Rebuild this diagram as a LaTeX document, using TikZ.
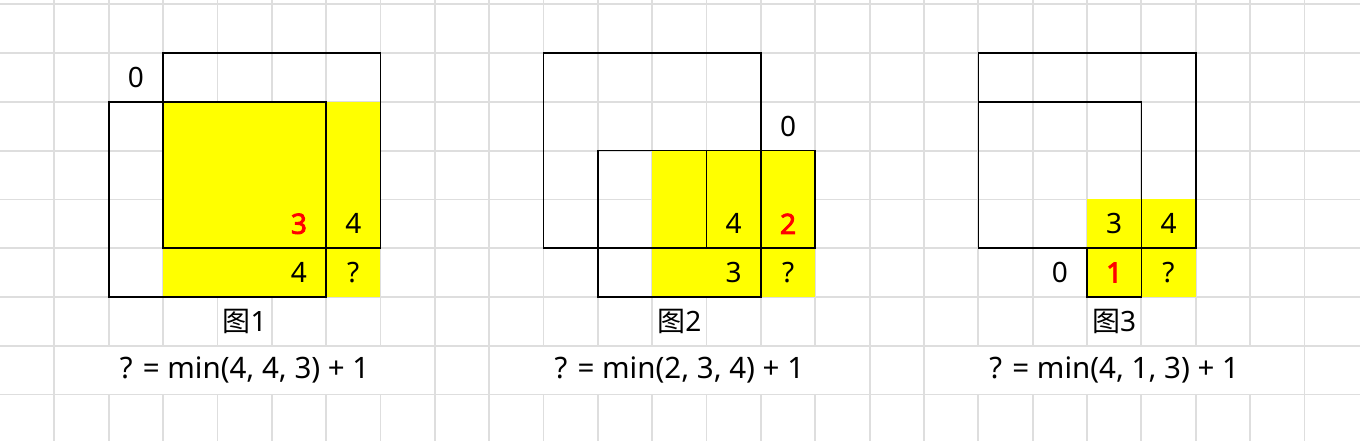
\documentclass[tikz,border=0pt]{standalone}
\usepackage{fontspec}
\setmainfont{Noto Sans}
\newfontfamily\cjk{Noto Sans CJK SC}
\newfontfamily\heavynum{Noto Sans}[FakeBold=3]
\definecolor{gridgray}{HTML}{DEDEDE}
\definecolor{hiyellow}{HTML}{FFFF00}
\definecolor{hired}{HTML}{FF0000}
\tikzset{
  gridline/.style={draw=gridgray, line width=1.8pt},
  boxline/.style={draw=black, line width=1.6pt},
  fillcell/.style={fill=hiyellow},
  val/.style={inner sep=0pt, font=\fontsize{28}{30}\selectfont, text=black},
  hot/.style={inner sep=0pt, font=\fontsize{28}{30}\selectfont\heavynum, text=hired},
  caption/.style={inner sep=0pt, font=\fontsize{28}{30}\selectfont, text=black},
  formula/.style={inner sep=0pt, font=\fontsize{29.5}{31}\selectfont, text=black},
}
\begin{document}
\begin{tikzpicture}
\useasboundingbox (0pt,0pt) rectangle (1360pt,-441pt);
\fill[white] (0pt,0pt) rectangle (1360pt,-441pt);
\begin{scope}[x=54.35pt, y=-48.75pt, yshift=-4.4pt]
  % grid
  \foreach \c in {1,...,24} {
    \draw[gridline] (\c,-0.1) -- (\c,7);
    \draw[gridline] (\c,8) -- (\c,8.96);
  }
  \foreach \c in {1,8,9,16,17,24} {
    \draw[gridline] (\c,7) -- (\c,8);
  }
  \foreach \r in {0,...,8} {
    \draw[gridline] (0,\r) -- (25.03,\r);
  }
  % yellow fills
  \fill[fillcell] (3,2) rectangle (7,6);
  \fill[fillcell] (12,3) rectangle (15,6);
  \fill[fillcell] (20,4) rectangle (22,6);
  % figure 1 boxes
  \draw[boxline] (3,1) rectangle (7,5);
  \draw[boxline] (2,2) rectangle (6,6);
  % figure 2 boxes
  \draw[boxline] (10,1) rectangle (14,5);
  \draw[boxline] (11,3) rectangle (14,6);
  \draw[boxline] (13,3) rectangle (15,5);
  % figure 3 boxes
  \draw[boxline] (18,1) rectangle (22,5);
  \draw[boxline] (18,2) rectangle (21,5);
  \draw[boxline] (20,5) rectangle (21,6);
  % figure 1 texts
  \node[val] (a0) at (2.5,1.5) {0};
  \node[hot] (a3) at (5.5,4.5) {3};
  \node[val] (a4r) at (6.5,4.5) {4};
  \node[val] (a4b) at (5.5,5.5) {4};
  \node[val] (aq) at (6.5,5.5) {?};
  \node[caption] (acap) at (4.5,6.5) {{\cjk 图}1};
  \node[formula] (aform) at (4.5,7.5) {? = min(4, 4, 3) + 1};
  % figure 2 texts
  \node[val] (b0) at (14.5,2.5) {0};
  \node[val] (b4) at (13.5,4.5) {4};
  \node[hot] (b2) at (14.5,4.5) {2};
  \node[val] (b3) at (13.5,5.5) {3};
  \node[val] (bq) at (14.5,5.5) {?};
  \node[caption] (bcap) at (12.5,6.5) {{\cjk 图}2};
  \node[formula] (bform) at (12.5,7.5) {? = min(2, 3, 4) + 1};
  % figure 3 texts
  \node[val] (c3) at (20.5,4.5) {3};
  \node[val] (c4) at (21.5,4.5) {4};
  \node[val] (c0) at (19.5,5.5) {0};
  \node[hot] (c1) at (20.5,5.5) {1};
  \node[val] (cq) at (21.5,5.5) {?};
  \node[caption] (ccap) at (20.5,6.5) {{\cjk 图}3};
  \node[formula] (cform) at (20.5,7.5) {? = min(4, 1, 3) + 1};
\end{scope}
\end{tikzpicture}
\end{document}
